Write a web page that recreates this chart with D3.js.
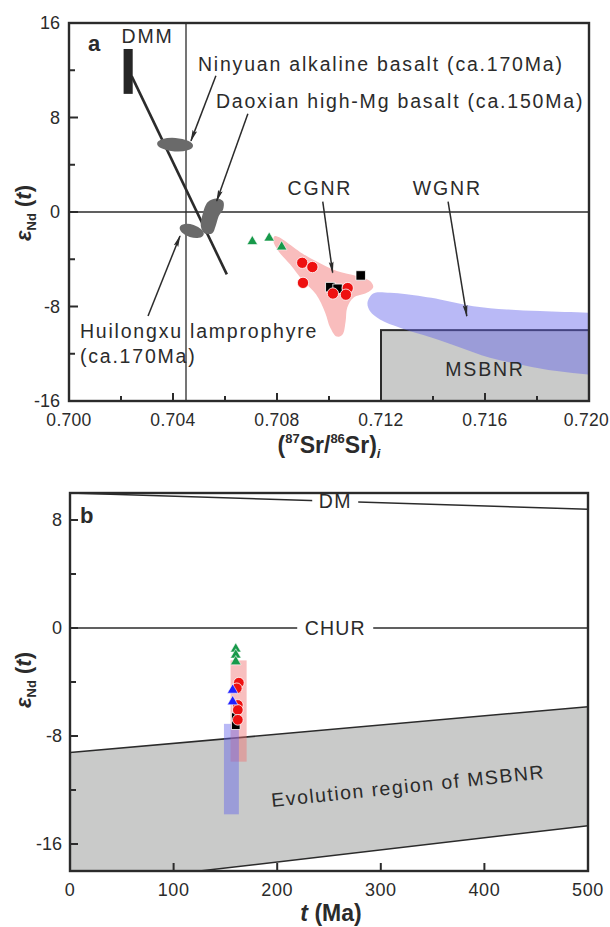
<!DOCTYPE html>
<html>
<head>
<meta charset="utf-8">
<script src="https://cdn.jsdelivr.net/npm/d3@7"></script>
<style>
  html, body { margin: 0; padding: 0; background: #fff; }
  svg { display: block; font-family: "Liberation Sans", Arial, sans-serif; }
</style>
</head>
<body>
<svg id="chart" width="610" height="927"></svg>
<script>
// ---------- Panel a: initial 87Sr/86Sr vs eNd(t) ----------
const srTicksA = [0.700, 0.704, 0.708, 0.712, 0.716, 0.720];
const srMinorA = [0.702, 0.706, 0.710, 0.714, 0.718];
const ndTicksA = [-16, -8, 0, 8, 16];
const ndMinorA = [-12, -4, 4, 12];

// samples (this study)
const srRedA   = [0.70897, 0.70936, 0.70900, 0.71072, 0.71015, 0.71065];
const ndRedA   = [-4.3, -4.66, -6.0, -6.44, -6.9, -7.0];
const srGreenA = [0.70705, 0.70770, 0.70818];
const ndGreenA = [-2.5, -2.2, -2.95];
const srBlackA = [0.71005, 0.71033, 0.71122];
const ndBlackA = [-6.36, -6.5, -5.37];

// reference fields
const cgnrSr = [0.70792,0.70914,0.71030,0.71106,0.71158,0.71170,0.71145,0.71094,0.71070,0.71064,0.71052,0.71030,0.71005,0.70985,0.70950,0.70901,0.70850,0.70805,0.70786];
const cgnrNd = [-2.03,-3.73,-5.0,-5.42,-5.85,-6.36,-6.84,-7.26,-8.1,-9.24,-10.36,-10.55,-9.8,-8.5,-6.97,-5.85,-4.43,-3.3,-2.46];
const wgnrSr = [0.71170,0.71235,0.71299,0.71427,0.71555,0.71684,0.71812,0.71997,0.7210,0.7210,0.71997,0.71876,0.71748,0.71619,0.71491,0.71363,0.71273,0.71196,0.71158,0.71148];
const wgnrNd = [-6.89,-6.84,-6.97,-7.4,-7.97,-8.25,-8.39,-8.53,-8.6,-13.9,-13.75,-13.47,-12.97,-12.34,-11.36,-10.42,-9.8,-9.1,-8.4,-7.68];
const daoxianSr = [0.70534,0.70568,0.70593,0.70593,0.70576,0.70564,0.70551,0.70521,0.70507,0.70514];
const daoxianNd = [0.85,1.15,0.9,0.23,-0.34,-1.19,-1.8,-1.8,-1.19,-0.19];
const msbnrSr = [0.712, 0.720];
const msbnrNd = [-16, -10];
const dmmSr = [0.7021, 0.70245];
const dmmNd = [10, 13.8];
const mixSr = [0.70241, 0.70607];
const mixNd = [11.5, -5.28];
const bulkEarthSr = 0.7045;
const bulkEarthNd = 0;

// ---------- Panel b: eNd(t) vs t ----------
const ageTicksB = [0, 100, 200, 300, 400, 500];
const ndTicksB = [8, 0, -8, -16];
const ndMinorB = [4, -4, -12];
const dmAge = [0, 500];
const dmNd = [10.0, 8.8];
const churAge = [0, 500];
const churNd = [0, 0];
const msbnrUpperAge = [0, 500];
const msbnrUpperNd = [-9.23, -5.83];
const msbnrLowerAge = [125, 500];
const msbnrLowerNd = [-18, -14.65];

const ageGreenB = [160, 160, 160];
const ndGreenB  = [-1.55, -2.0, -2.5];
const ageRedB   = [163, 161, 162, 162, 162];
const ndRedB    = [-4.05, -4.47, -5.7, -6.07, -6.8];
const ageBlueB  = [157, 157];
const ndBlueB   = [-4.6, -5.46];
const ageBlackB = [160, 160];
const ndBlackB  = [-6.6, -7.2];
// [age min, age max, eNd min, eNd max]
const pinkRangeB = [155, 170.5, -9.9, -2.4];
const blueRangeB = [148.6, 163, -13.8, -7.1];

// ---------- styles ----------
const INK = "#2b2b2b";
const RED = "#ee1010";
const GREEN = "#17994a";
const BLUE = "#1f1fff";
const PINK = "#f9bdbd";
const GRAY = "#c9cac9";
const BLOB = "#6a6a6a";
const LAVENDER = "#6464eb";

const svg = d3.select("#chart");
const defs = svg.append("defs");

defs.append("marker")
  .attr("id", "arrow").attr("viewBox", "0 0 12 6")
  .attr("refX", 11).attr("refY", 3)
  .attr("markerWidth", 12).attr("markerHeight", 6)
  .attr("markerUnits", "userSpaceOnUse")
  .attr("orient", "auto")
  .append("path").attr("d", "M0,0.6 L12,3 L0,5.4 L2,3 Z").attr("fill", INK);

function zip(a, b) { return a.map((v, i) => [v, b[i]]); }

function ticksInward(g, scale, values, orient, len, pos) {
  values.forEach(v => {
    if (orient === "left") {
      g.append("line").attr("x1", pos).attr("x2", pos + len)
        .attr("y1", scale(v)).attr("y2", scale(v))
        .attr("stroke", INK).attr("stroke-width", 2);
    } else {
      g.append("line").attr("y1", pos).attr("y2", pos - len)
        .attr("x1", scale(v)).attr("x2", scale(v))
        .attr("stroke", INK).attr("stroke-width", 2);
    }
  });
}

function yTitle(g, x, y) {
  const t = g.append("text")
    .attr("transform", `translate(${x},${y}) rotate(-90)`)
    .attr("text-anchor", "middle")
    .attr("font-size", 22).attr("font-weight", "bold").attr("fill", INK);
  t.append("tspan").attr("font-style", "italic").text("ε");
  t.append("tspan").attr("font-size", 13).attr("dy", 5).text("Nd");
  t.append("tspan").attr("dy", -5).text(" (");
  t.append("tspan").attr("font-style", "italic").text("t");
  t.append("tspan").text(")");
}

// ================= Panel a =================
const xA = d3.scaleLinear().domain([0.700, 0.720]).range([69, 589]);
const yA = d3.scaleLinear().domain([-16, 16]).range([401, 23]);
const gA = svg.append("g");

defs.append("clipPath").attr("id", "clipA")
  .append("rect").attr("x", 69).attr("y", 23).attr("width", 520).attr("height", 378);
defs.append("clipPath").attr("id", "clipB")
  .append("rect").attr("x", 70).attr("y", 493).attr("width", 518).attr("height", 378);

const plotA = gA.append("g").attr("clip-path", "url(#clipA)");

// MSBNR field
plotA.append("rect")
  .attr("x", xA(msbnrSr[0])).attr("y", yA(msbnrNd[1]))
  .attr("width", xA(msbnrSr[1]) - xA(msbnrSr[0]))
  .attr("height", yA(msbnrNd[0]) - yA(msbnrNd[1]))
  .attr("fill", GRAY).attr("stroke", INK).attr("stroke-width", 2);

// CGNR field
const closed = d3.line().x(d => xA(d[0])).y(d => yA(d[1])).curve(d3.curveCatmullRomClosed.alpha(0.5));
plotA.append("path").attr("d", closed(zip(cgnrSr, cgnrNd))).attr("fill", PINK);

// WGNR field
plotA.append("path").attr("d", closed(zip(wgnrSr, wgnrNd)))
  .attr("fill", LAVENDER).attr("fill-opacity", 0.45);

// Bulk-earth reference lines
plotA.append("line").attr("x1", xA(bulkEarthSr)).attr("x2", xA(bulkEarthSr))
  .attr("y1", yA(16)).attr("y2", yA(-16)).attr("stroke", INK).attr("stroke-width", 1.3);
plotA.append("line").attr("x1", xA(0.700)).attr("x2", xA(0.720))
  .attr("y1", yA(bulkEarthNd)).attr("y2", yA(bulkEarthNd)).attr("stroke", INK).attr("stroke-width", 1.3);

// DMM bar and mixing line
plotA.append("rect")
  .attr("x", xA(dmmSr[0])).attr("y", yA(dmmNd[1]))
  .attr("width", xA(dmmSr[1]) - xA(dmmSr[0])).attr("height", yA(dmmNd[0]) - yA(dmmNd[1]))
  .attr("fill", "#262626");
plotA.append("line")
  .attr("x1", xA(mixSr[0])).attr("y1", yA(mixNd[0]))
  .attr("x2", xA(mixSr[1])).attr("y2", yA(mixNd[1]))
  .attr("stroke", INK).attr("stroke-width", 2.6);

// Basalt / lamprophyre fields
plotA.append("ellipse")
  .attr("cx", xA(0.70408)).attr("cy", yA(5.7)).attr("rx", 18).attr("ry", 6.8)
  .attr("transform", `rotate(4,${xA(0.70408)},${yA(5.7)})`)
  .attr("fill", BLOB);
plotA.append("ellipse")
  .attr("cx", xA(0.70472)).attr("cy", yA(-1.6)).attr("rx", 12.5).attr("ry", 6.3)
  .attr("transform", `rotate(18,${xA(0.70472)},${yA(-1.6)})`)
  .attr("fill", BLOB);
plotA.append("path").attr("d", closed(zip(daoxianSr, daoxianNd))).attr("fill", BLOB);

// samples
const sym = (type, size) => d3.symbol().type(type).size(size)();
plotA.selectAll(".sqA").data(zip(srBlackA, ndBlackA)).join("path")
  .attr("transform", d => `translate(${xA(d[0])},${yA(d[1])})`)
  .attr("d", sym(d3.symbolSquare, 90)).attr("fill", "#000").attr("stroke", "#fff").attr("stroke-width", 0.8);
plotA.selectAll(".ciA").data(zip(srRedA, ndRedA)).join("path")
  .attr("transform", d => `translate(${xA(d[0])},${yA(d[1])})`)
  .attr("d", sym(d3.symbolCircle, 100)).attr("fill", RED).attr("stroke", "#fff").attr("stroke-width", 0.8);
plotA.selectAll(".trA").data(zip(srGreenA, ndGreenA)).join("path")
  .attr("transform", d => `translate(${xA(d[0])},${yA(d[1])})`)
  .attr("d", sym(d3.symbolTriangle, 48)).attr("fill", GREEN).attr("stroke", "#fff").attr("stroke-width", 0.6);

// annotations
function note(g, x, y, txt, anchor) {
  return g.append("text").attr("x", x).attr("y", y).attr("dy", "0.35em")
    .attr("text-anchor", anchor || "start")
    .attr("font-size", 19.5).attr("letter-spacing", 1.8).attr("fill", INK)
    .text(txt);
}
function arrow(g, x1, y1, x2, y2) {
  g.append("line").attr("x1", x1).attr("y1", y1).attr("x2", x2).attr("y2", y2)
    .attr("stroke", INK).attr("stroke-width", 1.5).attr("marker-end", "url(#arrow)");
}

note(gA, xA(0.70202), yA(14.85), "DMM");
note(gA, xA(0.70496), yA(12.5), "Ninyuan alkaline basalt (ca.170Ma)");
note(gA, xA(0.70565), yA(9.4), "Daoxian high-Mg basalt (ca.150Ma)");
note(gA, xA(0.70965), yA(2.0), "CGNR", "middle");
note(gA, xA(0.71455), yA(2.0), "WGNR", "middle");
note(gA, xA(0.70042), yA(-10.1), "Huilongxu lamprophyre");
note(gA, xA(0.70042), yA(-12.2), "(ca.170Ma)");
note(gA, xA(0.7160), yA(-13.3), "MSBNR", "middle");

arrow(gA, xA(0.70565), yA(11.53), xA(0.70469), yA(6.02));
arrow(gA, xA(0.70688), yA(8.31), xA(0.70568), yA(0.93));
arrow(gA, xA(0.70976), yA(0.87), xA(0.71014), yA(-5.14));
arrow(gA, xA(0.71458), yA(0.87), xA(0.71530), yA(-8.81));
arrow(gA, xA(0.70304), yA(-8.81), xA(0.70427), yA(-2.03));

// frame, ticks, labels
gA.append("rect").attr("x", 69).attr("y", 23).attr("width", 520).attr("height", 378)
  .attr("fill", "none").attr("stroke", INK).attr("stroke-width", 2.4);
ticksInward(gA, yA, ndTicksA, "left", 9, 69);
ticksInward(gA, yA, ndMinorA, "left", 6, 69);
ticksInward(gA, xA, srTicksA.slice(1, -1), "bottom", 8, 401);
ticksInward(gA, xA, srMinorA, "bottom", 5, 401);

gA.selectAll(".ylA").data(ndTicksA).join("text")
  .attr("x", 60).attr("y", d => yA(d)).attr("dy", "0.35em")
  .attr("text-anchor", "end").attr("font-size", 18).attr("fill", INK).text(d => d);
gA.selectAll(".xlA").data(srTicksA).join("text")
  .attr("x", (d, i) => i === srTicksA.length - 1 ? 609 : xA(d)).attr("y", 426)
  .attr("text-anchor", (d, i) => i === srTicksA.length - 1 ? "end" : "middle")
  .attr("font-size", 17.5).attr("letter-spacing", 0.3)
  .attr("fill", INK).text(d => d3.format(".3f")(d));

gA.append("text").attr("x", 88).attr("y", 51).attr("font-size", 22)
  .attr("font-weight", "bold").attr("fill", INK).text("a");

const xtA = gA.append("text").attr("x", 329).attr("y", 453).attr("text-anchor", "middle")
  .attr("font-size", 23).attr("font-weight", "bold").attr("fill", INK);
xtA.append("tspan").text("(");
xtA.append("tspan").attr("font-size", 13).attr("dy", -10).text("87");
xtA.append("tspan").attr("dy", 10).text("Sr/");
xtA.append("tspan").attr("font-size", 13).attr("dy", -10).text("86");
xtA.append("tspan").attr("dy", 10).text("Sr)");
xtA.append("tspan").attr("font-size", 13).attr("font-style", "italic").attr("dy", 5).text("i");

yTitle(gA, 31, 213);

// ================= Panel b =================
const xB = d3.scaleLinear().domain([0, 500]).range([70, 588]);
const yB = d3.scaleLinear().domain([-18, 10]).range([871, 493]);
const gB = svg.append("g");
const plotB = gB.append("g").attr("clip-path", "url(#clipB)");

// MSBNR evolution band
const upper = zip(msbnrUpperAge, msbnrUpperNd);
const lower = zip(msbnrLowerAge, msbnrLowerNd);
const band = upper.concat(lower.slice().reverse(), [[0, -18]]);
const pl = d3.line().x(d => xB(d[0])).y(d => yB(d[1]));
plotB.append("path").attr("d", pl(band) + "Z").attr("fill", GRAY);
plotB.append("path").attr("d", pl(upper)).attr("fill", "none").attr("stroke", INK).attr("stroke-width", 1.5);
plotB.append("path").attr("d", pl(lower)).attr("fill", "none").attr("stroke", INK).attr("stroke-width", 1.5);

// DM and CHUR curves
plotB.append("path").attr("d", pl(zip(dmAge, dmNd))).attr("fill", "none").attr("stroke", INK).attr("stroke-width", 1.5);
plotB.append("path").attr("d", pl(zip(churAge, churNd))).attr("fill", "none").attr("stroke", INK).attr("stroke-width", 1.5);

function gapLabel(g, x, y, txt, w) {
  g.append("rect").attr("x", x - w / 2).attr("y", y - 9).attr("width", w).attr("height", 18).attr("fill", "#fff");
  g.append("text").attr("x", x).attr("y", y).attr("dy", "0.35em").attr("text-anchor", "middle")
    .attr("font-size", 19.5).attr("letter-spacing", 1.2).attr("fill", INK).text(txt);
}
const dmAt = 256;
gapLabel(gB, xB(dmAt), yB(dmNd[0] + (dmNd[1] - dmNd[0]) * dmAt / 500), "DM", 46);
gapLabel(gB, xB(dmAt), yB(0), "CHUR", 76);

gB.append("text")
  .attr("transform", `translate(${xB(327)},${yB(-12.2)}) rotate(-6)`)
  .attr("text-anchor", "middle").attr("font-size", 19.5).attr("letter-spacing", 1.5)
  .attr("fill", INK).text("Evolution region of MSBNR");

// sample ranges
plotB.append("rect")
  .attr("x", xB(pinkRangeB[0])).attr("y", yB(pinkRangeB[3]))
  .attr("width", xB(pinkRangeB[1]) - xB(pinkRangeB[0])).attr("height", yB(pinkRangeB[2]) - yB(pinkRangeB[3]))
  .attr("fill", "#f07070").attr("fill-opacity", 0.45);
plotB.append("rect")
  .attr("x", xB(blueRangeB[0])).attr("y", yB(blueRangeB[3]))
  .attr("width", xB(blueRangeB[1]) - xB(blueRangeB[0])).attr("height", yB(blueRangeB[2]) - yB(blueRangeB[3]))
  .attr("fill", LAVENDER).attr("fill-opacity", 0.45);

plotB.selectAll(".sqB").data(zip(ageBlackB, ndBlackB)).join("path")
  .attr("transform", d => `translate(${xB(d[0])},${yB(d[1])})`)
  .attr("d", sym(d3.symbolSquare, 75)).attr("fill", "#000").attr("stroke", "#fff").attr("stroke-width", 0.8);
plotB.selectAll(".ciB").data(zip(ageRedB, ndRedB)).join("path")
  .attr("transform", d => `translate(${xB(d[0])},${yB(d[1])})`)
  .attr("d", sym(d3.symbolCircle, 90)).attr("fill", RED).attr("stroke", "#fff").attr("stroke-width", 0.8);
plotB.selectAll(".btB").data(zip(ageBlueB, ndBlueB)).join("path")
  .attr("transform", d => `translate(${xB(d[0])},${yB(d[1])})`)
  .attr("d", sym(d3.symbolTriangle, 50)).attr("fill", BLUE).attr("stroke", "#fff").attr("stroke-width", 0.6);
plotB.selectAll(".gtB").data(zip(ageGreenB, ndGreenB)).join("path")
  .attr("transform", d => `translate(${xB(d[0])},${yB(d[1])})`)
  .attr("d", sym(d3.symbolTriangle, 50)).attr("fill", GREEN).attr("stroke", "#fff").attr("stroke-width", 0.6);

// frame, ticks, labels
gB.append("rect").attr("x", 70).attr("y", 493).attr("width", 518).attr("height", 378)
  .attr("fill", "none").attr("stroke", INK).attr("stroke-width", 2.4);
ticksInward(gB, yB, ndTicksB, "left", 8, 70);
ticksInward(gB, yB, ndMinorB, "left", 6, 70);
ticksInward(gB, xB, ageTicksB.slice(1, -1), "bottom", 8, 871);

gB.selectAll(".ylB").data(ndTicksB).join("text")
  .attr("x", 62).attr("y", d => yB(d)).attr("dy", "0.35em")
  .attr("text-anchor", "end").attr("font-size", 18).attr("fill", INK).text(d => d);
gB.selectAll(".xlB").data(ageTicksB).join("text")
  .attr("x", d => xB(d)).attr("y", 896)
  .attr("text-anchor", "middle").attr("font-size", 18).attr("letter-spacing", 0.6)
  .attr("fill", INK).text(d => d);

gB.append("text").attr("x", 80).attr("y", 523).attr("font-size", 22)
  .attr("font-weight", "bold").attr("fill", INK).text("b");

const xtB = gB.append("text").attr("x", 331).attr("y", 921).attr("text-anchor", "middle")
  .attr("font-size", 23).attr("font-weight", "bold").attr("fill", INK);
xtB.append("tspan").attr("font-style", "italic").text("t");
xtB.append("tspan").text(" (Ma)");

yTitle(gB, 31, 680);
</script>
</body>
</html>
